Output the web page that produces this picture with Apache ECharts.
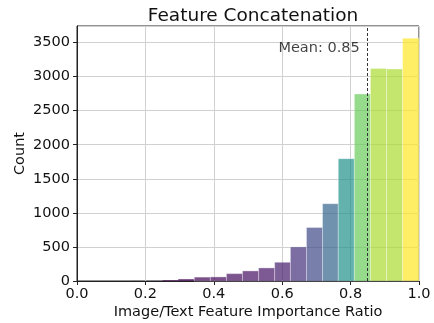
<!DOCTYPE html>
<html>
<head>
<meta charset="utf-8">
<script src="https://cdn.jsdelivr.net/npm/echarts@6/dist/echarts.min.js"></script>
<style>
html,body{margin:0;padding:0;background:#fff;}
#chart{width:434px;height:323px;}
</style>
</head>
<body>
<div id="chart"></div>
<script>
// Histogram bins (left and right edges) and counts
var binLeft  = [0.062,0.109,0.156,0.203,0.250,0.296,0.343,0.390,0.437,0.484,0.531,0.578,0.624,0.671,0.718,0.764,0.811,0.858,0.905,0.952];
var binRight = [0.109,0.156,0.203,0.250,0.296,0.343,0.390,0.437,0.484,0.531,0.578,0.624,0.671,0.718,0.764,0.811,0.858,0.905,0.952,1.000];
var counts   = [0,0,1,2,12,28,57,60,108,148,192,275,500,785,1135,1796,2745,3120,3112,3565];
var meanValue = 0.85;
var xTicks = [0.0,0.2,0.4,0.6,0.8,1.0];
var yTicks = [0,500,1000,1500,2000,2500,3000,3500];
var titleText = 'Feature Concatenation';
var xLabel = 'Image/Text Feature Importance Ratio';
var yLabel = 'Count';

var viridis = ['#440154','#482475','#414487','#355f8d','#2a788e','#21918c','#22a884','#44bf70','#7ad151','#bddf26','#fde725'];
function hex(c){return [parseInt(c.substr(1,2),16),parseInt(c.substr(3,2),16),parseInt(c.substr(5,2),16)];}
function cmap(t){
  t=Math.max(0,Math.min(1,t));
  var p=t*(viridis.length-1), i=Math.floor(p), f=p-i;
  if(i>=viridis.length-1){i=viridis.length-2;f=1;}
  var a=hex(viridis[i]), b=hex(viridis[i+1]);
  return 'rgb('+Math.round(a[0]+(b[0]-a[0])*f)+','+Math.round(a[1]+(b[1]-a[1])*f)+','+Math.round(a[2]+(b[2]-a[2])*f)+')';
}
var maxCount = Math.max.apply(null, counts);
var data = binLeft.map(function(l,i){return [l, binRight[i], counts[i]];});

var FONT = 'DejaVu Sans';
var chart = echarts.init(document.getElementById('chart'), null, {renderer:'canvas'});
chart.setOption({
  animation:false,
  backgroundColor:'#fff',
  title:{text:titleText,left:248,textAlign:'center',top:2,
    textStyle:{fontFamily:FONT,fontSize:18.5,fontWeight:'normal',color:'#111'}},
  grid:{left:77,right:15,top:26,bottom:42,outerBoundsMode:'none',containLabel:false,
    show:true,borderColor:'#222',borderWidth:1,backgroundColor:'transparent'},
  xAxis:{type:'value',min:0,max:1,interval:0.2,
    name:xLabel,nameLocation:'middle',nameGap:24,nameMoveOverlap:false,
    nameTextStyle:{fontFamily:FONT,fontSize:14.5,color:'#111'},
    axisLine:{show:true,onZero:false,lineStyle:{color:'#222'}},
    axisTick:{show:true,length:4,lineStyle:{color:'#222'}},
    axisLabel:{fontFamily:FONT,fontSize:14.5,color:'#111',margin:6,formatter:function(v){return v.toFixed(1);}},
    splitLine:{show:true,lineStyle:{color:'#d0d0d0',width:1}}},
  yAxis:{type:'value',min:0,max:3743,interval:500,
    name:yLabel,nameLocation:'middle',nameGap:49,nameMoveOverlap:false,
    nameTextStyle:{fontFamily:FONT,fontSize:14.5,color:'#111'},
    axisLine:{show:true,lineStyle:{color:'#222'}},
    axisTick:{show:true,length:4,lineStyle:{color:'#222'}},
    axisLabel:{fontFamily:FONT,fontSize:14.5,color:'#111',margin:7,showMaxLabel:false,
      formatter:function(v){return yTicks.indexOf(v)>=0?String(v):'';}},
    splitLine:{show:true,lineStyle:{color:'#d0d0d0',width:1}}},
  series:[{
    type:'custom',
    data:data,
    encode:{x:[0,1],y:2},
    renderItem:function(params,api){
      var x0=api.value(0),x1=api.value(1),c=api.value(2);
      var p0=api.coord([x0,c]), p1=api.coord([x1,0]);
      var h=p1[1]-p0[1];
      return {type:'rect',shape:{x:p0[0],y:p0[1],width:p1[0]-p0[0],height:h},
        style:{fill:cmap(c/maxCount),opacity:0.7,stroke:h>2?'rgba(255,255,255,0.8)':null,lineWidth:0.6}};
    },
    markLine:{silent:true,symbol:['none','none'],label:{show:false},
      lineStyle:{type:[3,2],color:'#333',width:1},
      data:[{xAxis:meanValue}]},
    z:2
  },{
    type:'scatter',
    data:[[meanValue,3410]],
    symbolSize:0,
    silent:true,
    label:{show:true,position:'left',distance:8,formatter:'Mean: '+meanValue.toFixed(2),
      fontFamily:FONT,fontSize:14.5,color:'#111'},
    z:5
  }]
});
</script>
</body>
</html>
